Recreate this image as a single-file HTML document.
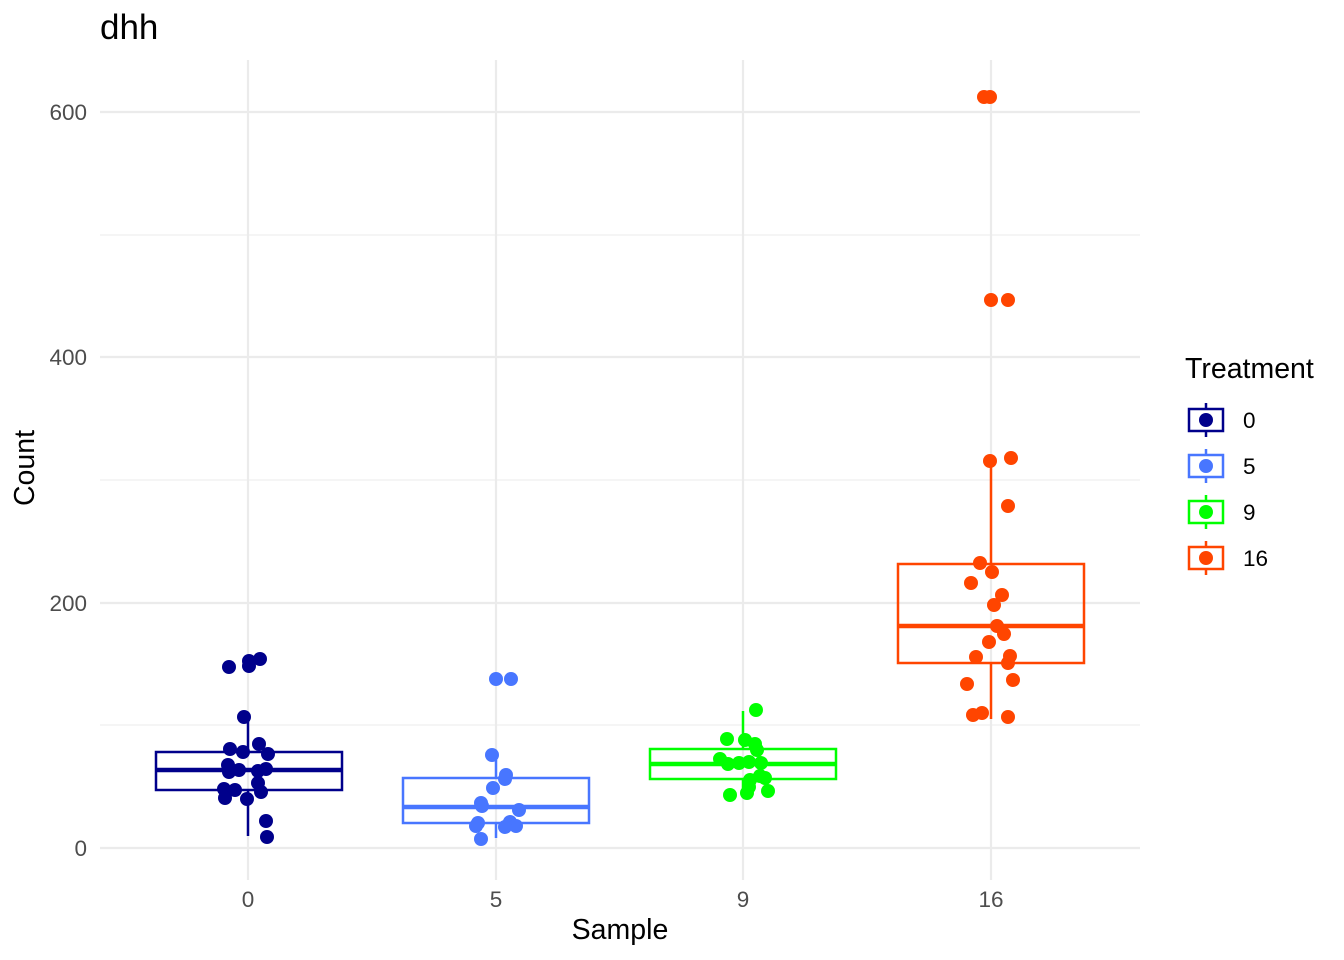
<!DOCTYPE html><html><head><style>body{margin:0;background:#fff}svg{display:block}text{font-family:"Liberation Sans",sans-serif}</style></head><body>
<svg width="1344" height="960" xmlns="http://www.w3.org/2000/svg">
<g stroke="#ebebeb" stroke-width="1.1"><line x1="100" x2="1140" y1="725" y2="725"/><line x1="100" x2="1140" y1="480" y2="480"/><line x1="100" x2="1140" y1="235" y2="235"/></g>
<g stroke="#ebebeb" stroke-width="2.2"><line x1="100" x2="1140" y1="848" y2="848"/><line x1="100" x2="1140" y1="603" y2="603"/><line x1="100" x2="1140" y1="357" y2="357"/><line x1="100" x2="1140" y1="112" y2="112"/>
<line x1="248" x2="248" y1="60" y2="880"/><line x1="496" x2="496" y1="60" y2="880"/><line x1="743" x2="743" y1="60" y2="880"/><line x1="991" x2="991" y1="60" y2="880"/></g>
<g fill="none" stroke-width="2.5">
<g stroke="#00008B"><line x1="248" x2="248" y1="717" y2="752"/><line x1="248" x2="248" y1="790" y2="836"/><rect x="156" y="752" width="186" height="38"/><line x1="156" x2="342" y1="770" y2="770" stroke-width="4.5"/></g>
<g stroke="#4876FF"><line x1="496" x2="496" y1="760" y2="778"/><line x1="496" x2="496" y1="823" y2="838"/><rect x="403" y="778" width="186" height="45"/><line x1="403" x2="589" y1="807" y2="807" stroke-width="4.5"/></g>
<g stroke="#00FF00"><line x1="743" x2="743" y1="711" y2="749"/><line x1="743" x2="743" y1="779" y2="795"/><rect x="650" y="749" width="186" height="30"/><line x1="650" x2="836" y1="764" y2="764" stroke-width="4.5"/></g>
<g stroke="#FF4500"><line x1="991" x2="991" y1="463" y2="564"/><line x1="991" x2="991" y1="663" y2="719"/><rect x="898" y="564" width="186" height="99"/><line x1="898" x2="1084" y1="626" y2="626" stroke-width="4.5"/></g>
</g>
<g fill="#00008B"><circle cx="229" cy="667" r="7"/><circle cx="249" cy="661" r="7"/><circle cx="249" cy="666" r="7"/><circle cx="260" cy="659" r="7"/><circle cx="244" cy="717" r="7"/><circle cx="230" cy="749" r="7"/><circle cx="243" cy="752" r="7"/><circle cx="259" cy="744" r="7"/><circle cx="268" cy="754" r="7"/><circle cx="228" cy="765" r="7"/><circle cx="229" cy="772" r="7"/><circle cx="239" cy="770" r="7"/><circle cx="258" cy="771" r="7"/><circle cx="266" cy="769" r="7"/><circle cx="258" cy="783" r="7"/><circle cx="224" cy="789" r="7"/><circle cx="235" cy="790" r="7"/><circle cx="261" cy="792" r="7"/><circle cx="225" cy="798" r="7"/><circle cx="247" cy="799" r="7"/><circle cx="266" cy="821" r="7"/><circle cx="267" cy="837" r="7"/></g>
<g fill="#4876FF"><circle cx="496" cy="679" r="7"/><circle cx="511" cy="679" r="7"/><circle cx="492" cy="755" r="7"/><circle cx="506" cy="775" r="7"/><circle cx="505" cy="779" r="7"/><circle cx="493" cy="788" r="7"/><circle cx="481" cy="803" r="7"/><circle cx="482" cy="806" r="7"/><circle cx="519" cy="810" r="7"/><circle cx="478" cy="823" r="7"/><circle cx="476" cy="826" r="7"/><circle cx="510" cy="822" r="7"/><circle cx="516" cy="826" r="7"/><circle cx="505" cy="827" r="7"/><circle cx="481" cy="839" r="7"/></g>
<g fill="#00FF00"><circle cx="756" cy="710" r="7"/><circle cx="727" cy="739" r="7"/><circle cx="745" cy="740" r="7"/><circle cx="755" cy="744" r="7"/><circle cx="757" cy="750" r="7"/><circle cx="720" cy="759" r="7"/><circle cx="728" cy="764" r="7"/><circle cx="739" cy="763" r="7"/><circle cx="749" cy="762" r="7"/><circle cx="761" cy="763" r="7"/><circle cx="760" cy="776" r="7"/><circle cx="750" cy="780" r="7"/><circle cx="765" cy="778" r="7"/><circle cx="749" cy="787" r="7"/><circle cx="730" cy="795" r="7"/><circle cx="747" cy="793" r="7"/><circle cx="768" cy="791" r="7"/></g>
<g fill="#FF4500"><circle cx="984" cy="97" r="7"/><circle cx="990" cy="97" r="7"/><circle cx="991" cy="300" r="7"/><circle cx="1008" cy="300" r="7"/><circle cx="990" cy="461" r="7"/><circle cx="1011" cy="458" r="7"/><circle cx="1008" cy="506" r="7"/><circle cx="980" cy="563" r="7"/><circle cx="992" cy="572" r="7"/><circle cx="971" cy="583" r="7"/><circle cx="1002" cy="595" r="7"/><circle cx="994" cy="605" r="7"/><circle cx="997" cy="626" r="7"/><circle cx="1004" cy="634" r="7"/><circle cx="989" cy="642" r="7"/><circle cx="976" cy="657" r="7"/><circle cx="1010" cy="656" r="7"/><circle cx="1008" cy="663" r="7"/><circle cx="967" cy="684" r="7"/><circle cx="1013" cy="680" r="7"/><circle cx="973" cy="715" r="7"/><circle cx="982" cy="713" r="7"/><circle cx="1008" cy="717" r="7"/></g>
<g fill="#4d4d4d" font-size="22.5" text-anchor="end"><text x="87" y="856">0</text><text x="87" y="611">200</text><text x="87" y="365">400</text><text x="87" y="120">600</text></g>
<g fill="#4d4d4d" font-size="22.5" text-anchor="middle"><text x="248" y="907">0</text><text x="496" y="907">5</text><text x="743" y="907">9</text><text x="991" y="907">16</text></g>
<text x="620" y="939" font-size="28.5" text-anchor="middle">Sample</text>
<text transform="translate(34,468) rotate(-90)" font-size="28.5" text-anchor="middle">Count</text>
<text x="100" y="39" font-size="35">dhh</text>
<text x="1185" y="378" font-size="28.5">Treatment</text>
<g fill="none" stroke-width="2.5">
<g stroke="#00008B"><line x1="1206" x2="1206" y1="403" y2="437"/><rect x="1189" y="409" width="34" height="22" fill="#fff"/></g>
<g stroke="#4876FF"><line x1="1206" x2="1206" y1="449" y2="483"/><rect x="1189" y="455" width="34" height="22" fill="#fff"/></g>
<g stroke="#00FF00"><line x1="1206" x2="1206" y1="495" y2="529"/><rect x="1189" y="501" width="34" height="22" fill="#fff"/></g>
<g stroke="#FF4500"><line x1="1206" x2="1206" y1="541" y2="575"/><rect x="1189" y="547" width="34" height="22" fill="#fff"/></g>
</g>
<circle cx="1206" cy="420" r="7" fill="#00008B"/><circle cx="1206" cy="466" r="7" fill="#4876FF"/><circle cx="1206" cy="512" r="7" fill="#00FF00"/><circle cx="1206" cy="558" r="7" fill="#FF4500"/>
<g font-size="22.5"><text x="1243" y="428">0</text><text x="1243" y="474">5</text><text x="1243" y="520">9</text><text x="1243" y="566">16</text></g>
</svg></body></html>
